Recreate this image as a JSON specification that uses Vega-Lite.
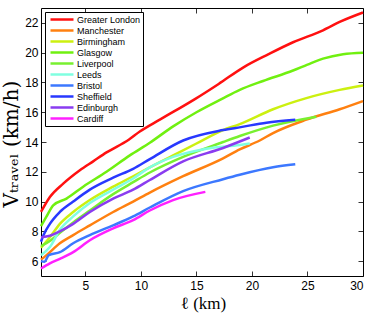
{
  "$schema": "https://vega.github.io/schema/vega-lite/v6.json",
  "width": 322,
  "height": 268,
  "autosize": "none",
  "padding": {"left": 41, "top": 8, "right": 11, "bottom": 38},
  "background": "white",
  "config": {
    "view": {"stroke": "black", "strokeWidth": 1},
    "font": "Liberation Sans",
    "axis": {"grid": false, "domain": false, "tickColor": "black", "tickWidth": 0.8, "labelColor": "black", "labelFontSize": 12, "labelFont": "Liberation Sans"}
  },
  "data": {
    "values": [
      {"city": "Greater London", "l": 1, "v": 9.3},
      {"city": "Greater London", "l": 1.8, "v": 10.3},
      {"city": "Greater London", "l": 3, "v": 11.2},
      {"city": "Greater London", "l": 4.5, "v": 12.1},
      {"city": "Greater London", "l": 5.7, "v": 12.7},
      {"city": "Greater London", "l": 6.9, "v": 13.3},
      {"city": "Greater London", "l": 8.9, "v": 14.15},
      {"city": "Greater London", "l": 9.9, "v": 14.7},
      {"city": "Greater London", "l": 11.7, "v": 15.5},
      {"city": "Greater London", "l": 14.9, "v": 16.9},
      {"city": "Greater London", "l": 17, "v": 17.9},
      {"city": "Greater London", "l": 19.2, "v": 19.0},
      {"city": "Greater London", "l": 21.5, "v": 19.9},
      {"city": "Greater London", "l": 23.7, "v": 20.7},
      {"city": "Greater London", "l": 26.4, "v": 21.5},
      {"city": "Greater London", "l": 28, "v": 22.1},
      {"city": "Greater London", "l": 30, "v": 22.7},

      {"city": "Manchester", "l": 1, "v": 6.1},
      {"city": "Manchester", "l": 1.5, "v": 6.4},
      {"city": "Manchester", "l": 2.7, "v": 7.2},
      {"city": "Manchester", "l": 3.9, "v": 7.75},
      {"city": "Manchester", "l": 5.4, "v": 8.4},
      {"city": "Manchester", "l": 7.5, "v": 9.3},
      {"city": "Manchester", "l": 9.3, "v": 10.0},
      {"city": "Manchester", "l": 10.8, "v": 10.6},
      {"city": "Manchester", "l": 13.8, "v": 11.7},
      {"city": "Manchester", "l": 17.4, "v": 12.9},
      {"city": "Manchester", "l": 18.9, "v": 13.5},
      {"city": "Manchester", "l": 20.7, "v": 14.1},
      {"city": "Manchester", "l": 21.9, "v": 14.6},
      {"city": "Manchester", "l": 24.9, "v": 15.5},
      {"city": "Manchester", "l": 27.9, "v": 16.2},
      {"city": "Manchester", "l": 30, "v": 16.75},

      {"city": "Birmingham", "l": 1, "v": 6.9},
      {"city": "Birmingham", "l": 1.8, "v": 7.6},
      {"city": "Birmingham", "l": 2.7, "v": 8.5},
      {"city": "Birmingham", "l": 3.9, "v": 9.3},
      {"city": "Birmingham", "l": 5.4, "v": 10.1},
      {"city": "Birmingham", "l": 7.5, "v": 11.0},
      {"city": "Birmingham", "l": 9.3, "v": 11.7},
      {"city": "Birmingham", "l": 10.8, "v": 12.3},
      {"city": "Birmingham", "l": 12.9, "v": 13.1},
      {"city": "Birmingham", "l": 15, "v": 13.9},
      {"city": "Birmingham", "l": 17.4, "v": 14.8},
      {"city": "Birmingham", "l": 18.9, "v": 15.2},
      {"city": "Birmingham", "l": 21.9, "v": 16.2},
      {"city": "Birmingham", "l": 24.9, "v": 16.95},
      {"city": "Birmingham", "l": 27.9, "v": 17.5},
      {"city": "Birmingham", "l": 30, "v": 17.8},

      {"city": "Glasgow", "l": 1, "v": 8.35},
      {"city": "Glasgow", "l": 1.5, "v": 9.0},
      {"city": "Glasgow", "l": 2.1, "v": 9.75},
      {"city": "Glasgow", "l": 3.3, "v": 10.2},
      {"city": "Glasgow", "l": 4.8, "v": 11.0},
      {"city": "Glasgow", "l": 6.9, "v": 12.0},
      {"city": "Glasgow", "l": 9, "v": 13.1},
      {"city": "Glasgow", "l": 10.8, "v": 13.95},
      {"city": "Glasgow", "l": 12.9, "v": 15.05},
      {"city": "Glasgow", "l": 15, "v": 16.0},
      {"city": "Glasgow", "l": 17.3, "v": 16.9},
      {"city": "Glasgow", "l": 18.9, "v": 17.5},
      {"city": "Glasgow", "l": 21, "v": 18.1},
      {"city": "Glasgow", "l": 23.7, "v": 18.8},
      {"city": "Glasgow", "l": 25, "v": 19.2},
      {"city": "Glasgow", "l": 26.4, "v": 19.6},
      {"city": "Glasgow", "l": 28.2, "v": 19.9},
      {"city": "Glasgow", "l": 30, "v": 20.0},

      {"city": "Liverpool", "l": 1, "v": 7.0},
      {"city": "Liverpool", "l": 1.8, "v": 7.35},
      {"city": "Liverpool", "l": 2.7, "v": 7.9},
      {"city": "Liverpool", "l": 3.9, "v": 8.6},
      {"city": "Liverpool", "l": 5.4, "v": 9.4},
      {"city": "Liverpool", "l": 7.5, "v": 10.5},
      {"city": "Liverpool", "l": 9.3, "v": 11.3},
      {"city": "Liverpool", "l": 10.8, "v": 11.95},
      {"city": "Liverpool", "l": 13.8, "v": 13.0},
      {"city": "Liverpool", "l": 17.4, "v": 14.0},
      {"city": "Liverpool", "l": 18.9, "v": 14.4},
      {"city": "Liverpool", "l": 21.9, "v": 15.1},
      {"city": "Liverpool", "l": 25.8, "v": 15.7},

      {"city": "Leeds", "l": 1, "v": 6.4},
      {"city": "Leeds", "l": 1.8, "v": 6.95},
      {"city": "Leeds", "l": 2.7, "v": 8.1},
      {"city": "Leeds", "l": 3.9, "v": 9.0},
      {"city": "Leeds", "l": 5.4, "v": 9.9},
      {"city": "Leeds", "l": 7.5, "v": 10.8},
      {"city": "Leeds", "l": 9.3, "v": 11.55},
      {"city": "Leeds", "l": 10.8, "v": 12.3},
      {"city": "Leeds", "l": 12.9, "v": 13.0},
      {"city": "Leeds", "l": 15.9, "v": 13.55},
      {"city": "Leeds", "l": 18.9, "v": 13.8},
      {"city": "Leeds", "l": 19.8, "v": 13.9},

      {"city": "Bristol", "l": 1, "v": 6.0},
      {"city": "Bristol", "l": 1.3, "v": 5.95},
      {"city": "Bristol", "l": 1.7, "v": 6.4},
      {"city": "Bristol", "l": 2.7, "v": 6.6},
      {"city": "Bristol", "l": 3.9, "v": 7.2},
      {"city": "Bristol", "l": 5.4, "v": 7.75},
      {"city": "Bristol", "l": 7.5, "v": 8.4},
      {"city": "Bristol", "l": 9.3, "v": 9.0},
      {"city": "Bristol", "l": 10.8, "v": 9.6},
      {"city": "Bristol", "l": 13.8, "v": 10.7},
      {"city": "Bristol", "l": 17.4, "v": 11.5},
      {"city": "Bristol", "l": 18.9, "v": 11.8},
      {"city": "Bristol", "l": 21.9, "v": 12.3},
      {"city": "Bristol", "l": 23.9, "v": 12.5},

      {"city": "Sheffield", "l": 1, "v": 7.3},
      {"city": "Sheffield", "l": 1.2, "v": 7.7},
      {"city": "Sheffield", "l": 1.8, "v": 8.5},
      {"city": "Sheffield", "l": 2.7, "v": 9.3},
      {"city": "Sheffield", "l": 3.9, "v": 10.0},
      {"city": "Sheffield", "l": 5.4, "v": 10.8},
      {"city": "Sheffield", "l": 7.5, "v": 11.6},
      {"city": "Sheffield", "l": 9.3, "v": 12.2},
      {"city": "Sheffield", "l": 10.8, "v": 12.85},
      {"city": "Sheffield", "l": 13.8, "v": 14.1},
      {"city": "Sheffield", "l": 17.4, "v": 14.8},
      {"city": "Sheffield", "l": 19, "v": 15.0},
      {"city": "Sheffield", "l": 21.3, "v": 15.3},
      {"city": "Sheffield", "l": 23.9, "v": 15.5},

      {"city": "Edinburgh", "l": 1, "v": 7.6},
      {"city": "Edinburgh", "l": 1.8, "v": 7.7},
      {"city": "Edinburgh", "l": 2.7, "v": 8.0},
      {"city": "Edinburgh", "l": 3.9, "v": 8.5},
      {"city": "Edinburgh", "l": 5.4, "v": 9.3},
      {"city": "Edinburgh", "l": 7.5, "v": 10.2},
      {"city": "Edinburgh", "l": 9.3, "v": 10.8},
      {"city": "Edinburgh", "l": 10.8, "v": 11.45},
      {"city": "Edinburgh", "l": 13.8, "v": 12.7},
      {"city": "Edinburgh", "l": 17.4, "v": 13.6},
      {"city": "Edinburgh", "l": 19.8, "v": 14.3},

      {"city": "Cardiff", "l": 1, "v": 5.5},
      {"city": "Cardiff", "l": 1.8, "v": 5.85},
      {"city": "Cardiff", "l": 2.7, "v": 6.15},
      {"city": "Cardiff", "l": 3.9, "v": 6.6},
      {"city": "Cardiff", "l": 5.4, "v": 7.4},
      {"city": "Cardiff", "l": 7.5, "v": 8.2},
      {"city": "Cardiff", "l": 9.3, "v": 8.75},
      {"city": "Cardiff", "l": 10.8, "v": 9.4},
      {"city": "Cardiff", "l": 12.9, "v": 10.1},
      {"city": "Cardiff", "l": 15.8, "v": 10.65}
    ]
  },
  "layer": [
    {
      "mark": {"type": "line", "strokeWidth": 2.5, "interpolate": "monotone"},
      "encoding": {
        "x": {
          "field": "l", "type": "quantitative",
          "scale": {"domain": [1, 30], "nice": false, "zero": false},
          "axis": {"values": [5, 10, 15, 20, 25, 30], "tickSize": -5, "labelPadding": 9, "title": "ℓ (km)", "titleFont": "Liberation Serif", "titleFontSize": 17, "titleFontWeight": "normal", "titleColor": "black", "titleY": 32, "titleBaseline": "alphabetic", "titleX": 162}
        },
        "y": {
          "field": "v", "type": "quantitative",
          "scale": {"domain": [5, 23], "nice": false, "zero": false},
          "axis": {"values": [6, 8, 10, 12, 14, 16, 18, 20, 22], "tickSize": -5, "labelPadding": 8, "title": "Vₜᵣₐᵥₑₗ (km/h)", "titleFont": "DejaVu Serif", "titleFontSize": 20, "titleFontWeight": "normal", "titleColor": "black", "titleAngle": -90, "titleAlign": "left", "titleBaseline": "alphabetic", "titleX": -24, "titleY": 199}
        },
        "color": {
          "field": "city", "type": "nominal",
          "scale": {
            "domain": ["Greater London", "Manchester", "Birmingham", "Glasgow", "Liverpool", "Leeds", "Bristol", "Sheffield", "Edinburgh", "Cardiff"],
            "range": ["#ff1010", "#ff8010", "#ccf010", "#70f010", "#78f030", "#80ffe0", "#3c78ff", "#2838ff", "#8a3cf0", "#ff20ff"]
          },
          "legend": {
            "title": null, "orient": "top-left", "offset": 4,
            "strokeColor": "black", "fillColor": "white", "padding": 2,
            "symbolType": "stroke", "symbolSize": 529, "symbolStrokeWidth": 2.5, "symbolOffset": 2,
            "clipHeight": 11, "rowPadding": 0, "labelFontSize": 9, "labelColor": "black", "labelFont": "Liberation Sans", "labelOffset": 2
          }
        }
      }
    },
    {
      "mark": {"type": "line", "strokeOpacity": 0},
      "encoding": {
        "x": {"field": "l", "type": "quantitative", "axis": {"orient": "top", "values": [5, 10, 15, 20, 25, 30], "tickSize": -5, "labels": false, "title": null}},
        "y": {"field": "v", "type": "quantitative", "axis": {"orient": "right", "values": [6, 8, 10, 12, 14, 16, 18, 20, 22], "tickSize": -5, "labels": false, "title": null}},
        "detail": {"field": "city"}
      }
    }
  ],
  "resolve": {"axis": {"x": "independent", "y": "independent"}}
}
